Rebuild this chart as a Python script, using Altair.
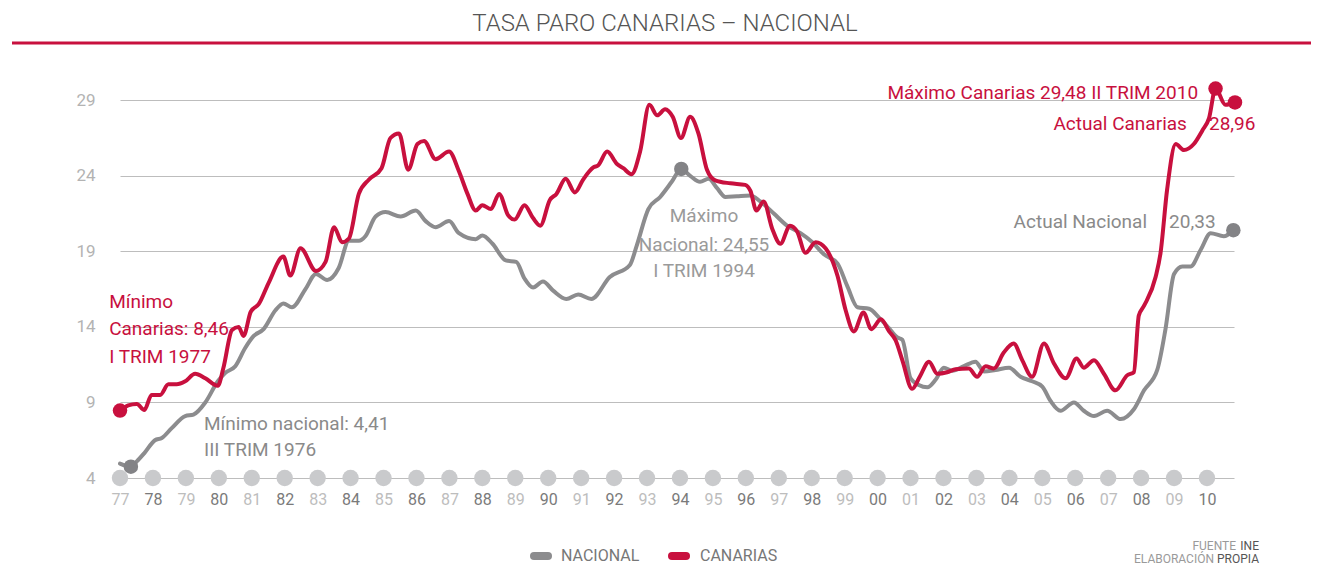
import altair as alt
import pandas as pd

FONT = "Roboto"
RED = "#c8103e"
GREY = "#8c8c8e"
GREY_DOT = "#838386"

TITLE = "TASA PARO CANARIAS – NACIONAL"

# (year as decimal, unemployment rate %)
canarias = [
    (1977.00, 8.46), (1977.25, 8.8), (1977.51, 8.9), (1977.74, 8.5), (1977.96, 9.5),
    (1978.22, 9.5), (1978.47, 10.2), (1978.72, 10.2), (1978.98, 10.4), (1979.28, 10.9),
    (1979.59, 10.6), (1979.97, 10.1), (1980.14, 11.3), (1980.40, 13.8), (1980.60, 14.0),
    (1980.75, 13.4), (1980.97, 15.0), (1981.21, 15.5), (1981.51, 16.9), (1981.96, 18.65),
    (1982.17, 17.4), (1982.48, 19.2), (1982.95, 17.7), (1983.24, 18.3), (1983.50, 20.6),
    (1983.74, 19.6), (1983.95, 19.85), (1984.25, 22.8), (1984.56, 23.75), (1984.94, 24.5),
    (1985.21, 26.5), (1985.47, 26.8), (1985.75, 24.4), (1986.03, 26.1), (1986.23, 26.3),
    (1986.58, 25.1), (1986.99, 25.6), (1987.29, 24.3), (1987.55, 22.8), (1987.80, 21.7),
    (1988.00, 22.05), (1988.26, 21.8), (1988.51, 22.8), (1988.78, 21.4), (1988.98, 21.1),
    (1989.28, 22.05), (1989.54, 21.2), (1989.76, 20.7), (1990.05, 22.4), (1990.25, 22.8),
    (1990.53, 23.8), (1990.81, 22.9), (1991.06, 23.75), (1991.37, 24.55), (1991.52, 24.7),
    (1991.79, 25.6), (1992.08, 24.8), (1992.28, 24.5), (1992.53, 24.1), (1992.79, 25.6),
    (1993.07, 28.7), (1993.31, 28.0), (1993.55, 28.4), (1993.78, 27.9), (1994.03, 26.5),
    (1994.31, 27.9), (1994.56, 26.8), (1994.82, 24.4), (1995.07, 23.7), (1995.53, 23.5),
    (1995.98, 23.4), (1996.14, 23.0), (1996.32, 21.7), (1996.54, 22.3), (1996.80, 20.5),
    (1997.05, 19.5), (1997.34, 20.7), (1997.56, 20.3), (1997.81, 18.9), (1998.12, 19.6),
    (1998.42, 19.2), (1998.78, 17.4), (1999.03, 15.1), (1999.28, 13.7), (1999.57, 14.95),
    (1999.81, 13.85), (2000.10, 14.5), (2000.35, 13.7), (2000.55, 13.1), (2000.75, 11.8),
    (2001.05, 9.9), (2001.28, 10.7), (2001.56, 11.7), (2001.81, 10.9), (2002.11, 11.0),
    (2002.37, 11.2), (2002.77, 11.25), (2003.02, 10.7), (2003.28, 11.4), (2003.53, 11.25),
    (2003.83, 12.3), (2004.13, 12.9), (2004.39, 11.8), (2004.69, 10.7), (2005.05, 12.9),
    (2005.35, 11.6), (2005.71, 10.6), (2006.04, 11.9), (2006.26, 11.3), (2006.57, 11.8),
    (2006.87, 10.9), (2007.22, 9.8), (2007.58, 10.8), (2007.78, 11.0), (2007.93, 14.75),
    (2008.09, 15.4), (2008.44, 17.3), (2008.59, 18.9), (2008.79, 23.1), (2009.05, 26.1),
    (2009.30, 25.7), (2009.60, 26.1), (2009.86, 27.0), (2010.06, 27.8), (2010.26, 29.77),
    (2010.56, 28.7), (2010.85, 28.85),
]

nacional = [
    (1977.00, 4.95), (1977.33, 4.75), (1977.51, 5.1), (1977.74, 5.65), (1978.06, 6.5),
    (1978.27, 6.65), (1978.57, 7.3), (1978.98, 8.1), (1979.23, 8.2), (1979.59, 9.0),
    (1979.97, 10.4), (1980.19, 10.95), (1980.50, 11.4), (1980.80, 12.6), (1981.06, 13.4),
    (1981.36, 13.85), (1981.72, 15.1), (1981.96, 15.55), (1982.22, 15.3), (1982.63, 16.5),
    (1982.95, 17.5), (1983.29, 17.1), (1983.64, 17.9), (1983.95, 19.7), (1984.25, 19.7),
    (1984.45, 20.0), (1984.76, 21.3), (1985.06, 21.6), (1985.52, 21.3), (1985.98, 21.7),
    (1986.28, 21.0), (1986.58, 20.6), (1986.99, 21.0), (1987.29, 20.2), (1987.80, 19.8),
    (1988.00, 20.05), (1988.31, 19.5), (1988.71, 18.4), (1989.03, 18.3), (1989.28, 17.2),
    (1989.54, 16.6), (1989.84, 17.0), (1990.15, 16.4), (1990.55, 15.85), (1990.91, 16.15),
    (1991.31, 15.85), (1991.87, 17.3), (1992.48, 18.1), (1992.69, 19.4), (1993.04, 21.8),
    (1993.40, 22.6), (1993.75, 23.6), (1994.04, 24.45), (1994.31, 24.0), (1994.61, 23.6),
    (1994.87, 23.8), (1995.12, 23.2), (1995.38, 22.6), (1995.73, 22.65), (1996.14, 22.7),
    (1996.44, 22.3), (1996.85, 21.5), (1997.25, 20.7), (1997.66, 20.2), (1998.02, 19.6),
    (1998.37, 18.8), (1998.78, 18.2), (1999.08, 16.7), (1999.39, 15.3), (1999.74, 15.2),
    (2000.05, 14.6), (2000.35, 13.9), (2000.60, 13.3), (2000.75, 13.15), (2001.00, 10.6),
    (2001.25, 10.15), (2001.51, 10.0), (2001.76, 10.5), (2002.01, 11.3), (2002.27, 11.1),
    (2002.62, 11.4), (2002.97, 11.7), (2003.23, 11.05), (2003.58, 11.15), (2003.99, 11.3),
    (2004.34, 10.7), (2004.69, 10.4), (2005.00, 10.05), (2005.25, 9.1), (2005.55, 8.45),
    (2005.96, 9.0), (2006.26, 8.45), (2006.57, 8.1), (2006.97, 8.45), (2007.38, 7.9),
    (2007.78, 8.55), (2008.09, 9.8), (2008.49, 11.15), (2008.74, 13.85), (2009.00, 17.5),
    (2009.25, 18.0), (2009.50, 18.0), (2009.81, 19.1), (2010.11, 20.2), (2010.51, 20.0),
    (2010.80, 20.4),
]

years = list(range(1977, 2011))
y_ticks = [4, 9, 14, 19, 24, 29]

# highlighted points: (year, value, colour)
markers = [
    (1977.00, 8.46, RED), (1977.33, 4.75, GREY_DOT), (1994.04, 24.45, GREY_DOT),
    (2010.26, 29.77, RED), (2010.85, 28.85, RED), (2010.80, 20.4, GREY_DOT),
]

# annotations: (year, value, text, colour, align)
notes = [
    (1976.67, 15.64, "Mínimo", RED, "left"),
    (1976.67, 13.85, "Canarias: 8,46", RED, "left"),
    (1976.67, 12.00, "I TRIM 1977", RED, "left"),
    (1979.55, 7.60, "Mínimo nacional: 4,41", "#8a8a8a", "left"),
    (1979.55, 5.82, "III TRIM 1976", "#8a8a8a", "left"),
    (1994.73, 21.36, "Máximo", "#9a9a9a", "center"),
    (1994.73, 19.44, "Nacional: 24,55", "#9a9a9a", "center"),
    (1994.73, 17.69, "I  TRIM 1994", "#9a9a9a", "center"),
    (2009.73, 29.50, "Máximo Canarias 29,48 II TRIM 2010", RED, "right"),
    (2009.39, 27.45, "Actual  Canarias", RED, "right"),
    (2010.06, 27.45, "28,96", RED, "left"),
    (2008.18, 20.96, "Actual Nacional", "#8a8a8a", "right"),
    (2008.85, 20.96, "20,33", "#8a8a8a", "left"),
]

legend_items = ["NACIONAL", "CANARIAS"]

df_can = pd.DataFrame(canarias, columns=["t", "v"])
df_nac = pd.DataFrame(nacional, columns=["t", "v"])
df_years = pd.DataFrame({"t": years, "v": [4] * len(years)})
df_mark = pd.DataFrame(markers, columns=["t", "v", "c"])
df_notes = pd.DataFrame(notes, columns=["t", "v", "text", "c", "align"])

xscale = alt.Scale(domain=[1977, 2010.82], nice=False, zero=False)
yscale = alt.Scale(domain=[4, 31], nice=False, zero=False)

x_axis = alt.Axis(
    values=years, labelExpr="substring(toString(datum.value), 2, 4)",
    labelColor=alt.condition("datum.value % 2 == 0", alt.value("#7a7a7a"), alt.value("#bdbdbd")),
    grid=False, domain=False, ticks=False, tickSize=0, labelPadding=13,
    labelFontSize=16, labelFont=FONT, title=None, labelFlush=False,
)
y_axis = alt.Axis(
    values=y_ticks, grid=True, gridColor="#bdbdbd", gridWidth=1, domain=False,
    ticks=False, tickSize=0, labelPadding=25, labelFontSize=17, labelFont=FONT,
    labelColor="#b3b3b3", title=None,
)

X = alt.X("t:Q", scale=xscale, axis=x_axis, title=None)
Y = alt.Y("v:Q", scale=yscale, axis=y_axis, title=None)

dots = alt.Chart(df_years).mark_circle(size=270, color="#c9cacc", opacity=1).encode(x=X, y=Y)

line_nac = alt.Chart(df_nac).mark_line(
    color=GREY, strokeWidth=4, interpolate="monotone", strokeCap="round", strokeJoin="round"
).encode(x=X, y=Y)
line_can = alt.Chart(df_can).mark_line(
    color=RED, strokeWidth=4, interpolate="monotone", strokeCap="round", strokeJoin="round"
).encode(x=X, y=Y)

mark_pts = alt.Chart(df_mark).mark_circle(size=210, opacity=1).encode(
    x=X, y=Y, color=alt.Color("c:N", scale=None)
)

text_layers = []
for al in ["left", "center", "right"]:
    sub = df_notes[df_notes["align"] == al]
    text_layers.append(
        alt.Chart(sub).mark_text(align=al, baseline="middle", font=FONT, fontSize=19).encode(
            x=X, y=Y, text="text:N", color=alt.Color("c:N", scale=None)
        )
    )

# title and decorations
title = alt.Chart(pd.DataFrame({"text": [TITLE]})).mark_text(
    font=FONT, fontSize=24, fontWeight=300, color="#555555", align="center", baseline="middle"
).encode(x=alt.value(545), y=alt.value(-46), text="text:N")
title_rule = alt.Chart(pd.DataFrame({"a": [0]})).mark_rule(color=RED, strokeWidth=3).encode(
    x=alt.value(-108), x2=alt.value(1191), y=alt.value(-27)
)

# legend
leg_df = pd.DataFrame({"label": legend_items, "c": [GREY, RED],
                       "x1": [414, 552], "x2": [428, 566], "tx": [441, 580]})
leg_sym = alt.Chart(leg_df).mark_rule(strokeWidth=8, strokeCap="round").encode(
    x=alt.X("x1:Q", scale=None), x2="x2:Q", y=alt.value(486), color=alt.Color("c:N", scale=None)
)
leg_txt = alt.Chart(leg_df).mark_text(
    font=FONT, fontSize=16, color="#777777", align="left", baseline="middle"
).encode(x=alt.X("tx:Q", scale=None), y=alt.value(486), text="label:N")

src_df = pd.DataFrame({
    "text": ["FUENTE", "INE", "ELABORACIÓN", "PROPIA"],
    "x": [1116, 1139, 1094, 1139], "y": [476, 476, 489, 489],
    "c": ["#9a9a9a", "#555555", "#9a9a9a", "#555555"],
})
src = alt.Chart(src_df).mark_text(font=FONT, fontSize=12, align="right", baseline="middle").encode(
    x=alt.X("x:Q", scale=None), y=alt.Y("y:Q", scale=None), text="text:N",
    color=alt.Color("c:N", scale=None)
)

chart = alt.layer(
    dots, line_nac, line_can, mark_pts, *text_layers, title, title_rule, leg_sym, leg_txt, src
).properties(
    width=1114, height=408,
    padding={"left": 112, "top": 62, "right": 77, "bottom": 88},
    autosize=alt.AutoSizeParams(type="none"),
    background="white",
).configure_view(stroke=None)

chart.save("out.html", embed_options={"renderer": "svg", "actions": False})
